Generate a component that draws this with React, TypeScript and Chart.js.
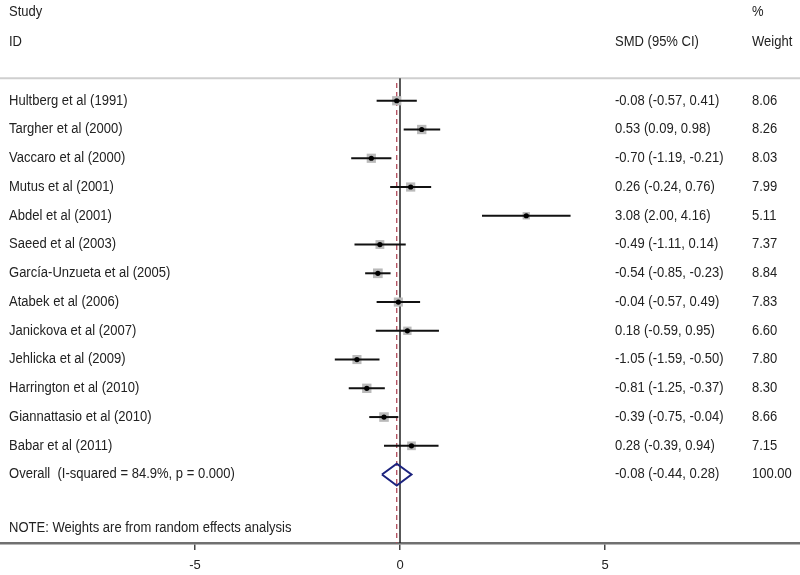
import React, { useEffect, useRef } from "react";
import { Chart, registerables } from "chart.js";

Chart.register(...registerables);

const studies = [
  "Hultberg et al (1991)",
  "Targher et al (2000)",
  "Vaccaro et al (2000)",
  "Mutus et al (2001)",
  "Abdel et al (2001)",
  "Saeed et al (2003)",
  "García-Unzueta et al (2005)",
  "Atabek et al (2006)",
  "Janickova et al (2007)",
  "Jehlicka et al (2009)",
  "Harrington et al (2010)",
  "Giannattasio et al (2010)",
  "Babar et al (2011)",
];
const smd = [-0.08, 0.53, -0.7, 0.26, 3.08, -0.49, -0.54, -0.04, 0.18, -1.05, -0.81, -0.39, 0.28];
const ciLow = [-0.57, 0.09, -1.19, -0.24, 2.0, -1.11, -0.85, -0.57, -0.59, -1.59, -1.25, -0.75, -0.39];
const ciHigh = [0.41, 0.98, -0.21, 0.76, 4.16, 0.14, -0.23, 0.49, 0.95, -0.5, -0.37, -0.04, 0.94];
const weights = [8.06, 8.26, 8.03, 7.99, 5.11, 7.37, 8.84, 7.83, 6.6, 7.8, 8.3, 8.66, 7.15];

const overallLabel = "Overall  (I-squared = 84.9%, p = 0.000)";
const overallEst = -0.08;
const overallLow = -0.44;
const overallHigh = 0.28;
const overallWeight = 100.0;

const xTicks = [-5, 0, 5];
const headerStudy = "Study";
const headerId = "ID";
const headerEffect = "SMD (95% CI)";
const headerPct = "%";
const headerWeight = "Weight";
const noteText = "NOTE: Weights are from random effects analysis";

const X_MIN = -9.756;
const X_MAX = 9.756;
const Y_MIN = -2.504;
const Y_MAX = 16.38;
const SEP_ROW = 0.22;
const DASH_TOP = 0.38;
const DIAMOND_HALF = 0.38;
const NOTE_ROW = 15.86;
const HEAD1_ROW = -2.09;
const HEAD2_ROW = -1.04;

const FONT = '"Liberation Sans", Arial, sans-serif';
const fmt = (v: number) => v.toFixed(2);

export default function App() {
  const ref = useRef<HTMLCanvasElement | null>(null);

  useEffect(() => {
    if (!ref.current) return;
    const overallRow = studies.length + 1;

    const ciSets = studies.map((_, i) => ({
      type: "line" as const,
      data: [
        { x: ciLow[i], y: i + 1 },
        { x: ciHigh[i], y: i + 1 },
      ],
      borderColor: "#111",
      borderWidth: 2,
      pointRadius: 0,
      order: 4,
    }));

    const textPlugin = {
      id: "forestText",
      afterDraw(chart: any) {
        const { ctx } = chart;
        const y = chart.scales.y;
        ctx.save();
        ctx.font = `14px ${FONT}`;
        ctx.fillStyle = "#222";
        ctx.textBaseline = "middle";
        ctx.textAlign = "left";
        const put = (s: string, x: number, row: number) => {
          ctx.save();
          ctx.translate(x, y.getPixelForValue(row));
          ctx.scale(0.93, 1);
          ctx.fillText(s, 0, 0);
          ctx.restore();
        };
        const xl = 9;
        const xc = 615;
        const xw = 752;
        put(headerStudy, xl, HEAD1_ROW);
        put(headerPct, xw, HEAD1_ROW);
        put(headerId, xl, HEAD2_ROW);
        put(headerEffect, xc, HEAD2_ROW);
        put(headerWeight, xw, HEAD2_ROW);
        studies.forEach((s, i) => {
          put(s, xl, i + 1);
          put(`${fmt(smd[i])} (${fmt(ciLow[i])}, ${fmt(ciHigh[i])})`, xc, i + 1);
          put(fmt(weights[i]), xw, i + 1);
        });
        put(overallLabel, xl, overallRow);
        put(`${fmt(overallEst)} (${fmt(overallLow)}, ${fmt(overallHigh)})`, xc, overallRow);
        put(fmt(overallWeight), xw, overallRow);
        put(noteText, xl, NOTE_ROW);
        ctx.restore();
      },
    };

    const chart = new Chart(ref.current, {
      type: "scatter",
      data: {
        datasets: [
          {
            type: "line",
            data: [
              { x: X_MIN, y: SEP_ROW },
              { x: X_MAX, y: SEP_ROW },
            ],
            borderColor: "#cfcfcf",
            borderWidth: 2,
            pointRadius: 0,
            order: 10,
          } as any,
          {
            type: "line",
            data: [
              { x: 0, y: SEP_ROW },
              { x: 0, y: Y_MAX },
            ],
            borderColor: "#222",
            borderWidth: 1.5,
            pointRadius: 0,
            order: 9,
          },
          {
            type: "line",
            data: [
              { x: overallEst, y: DASH_TOP },
              { x: overallEst, y: Y_MAX },
            ],
            borderColor: "#b04a5a",
            borderWidth: 1.3,
            borderDash: [5, 4],
            pointRadius: 0,
            order: 8,
          },
          {
            type: "scatter",
            data: smd.map((v, i) => ({ x: v, y: i + 1 })),
            pointStyle: "rect",
            pointRadius: weights.map((w) => 2.3 * Math.sqrt(w)),
            backgroundColor: "#bababa",
            borderWidth: 0,
            order: 5,
          },
          ...ciSets,
          {
            type: "scatter",
            data: smd.map((v, i) => ({ x: v, y: i + 1 })),
            pointStyle: "circle",
            pointRadius: 2.6,
            backgroundColor: "#000",
            borderWidth: 0,
            order: 1,
          },
          {
            type: "line",
            data: [
              { x: overallLow, y: overallRow },
              { x: overallEst, y: overallRow - DIAMOND_HALF },
              { x: overallHigh, y: overallRow },
              { x: overallEst, y: overallRow + DIAMOND_HALF },
              { x: overallLow, y: overallRow },
            ],
            borderColor: "#1c237e",
            borderWidth: 2,
            pointRadius: 0,
            tension: 0,
            order: 1,
          },
        ] as any,
      },
      options: {
        animation: false,
        responsive: false,
        events: [],
        layout: { autoPadding: false, padding: { left: 0, right: 0, top: 0, bottom: 1 } },
        plugins: { legend: { display: false }, tooltip: { enabled: false } },
        scales: {
          x: {
            type: "linear",
            min: X_MIN,
            max: X_MAX,
            afterBuildTicks: (scale: any) => {
              scale.ticks = xTicks.map((v) => ({ value: v }));
            },
            afterFit: (scale: any) => {
              scale.height = 31;
            },
            ticks: {
              color: "#222",
              font: { family: FONT, size: 13 },
              padding: 8,
              maxRotation: 0,
              autoSkip: false,
              callback: (v: any) => String(v),
            },
            grid: {
              display: true,
              drawOnChartArea: false,
              drawTicks: true,
              tickLength: 7,
              color: "#444",
              lineWidth: 1.5,
            },
            border: { display: true, color: "#707070", width: 2.5 },
          },
          y: {
            type: "linear",
            display: false,
            min: Y_MIN,
            max: Y_MAX,
            reverse: true,
          },
        },
      },
      plugins: [textPlugin],
    });
    return () => chart.destroy();
  }, []);

  return (
    <div style={{ position: "fixed", left: 0, top: 0, width: 800, height: 575, background: "#fff" }}>
      <canvas ref={ref} width={800} height={575} style={{ display: "block" }} />
    </div>
  );
}
